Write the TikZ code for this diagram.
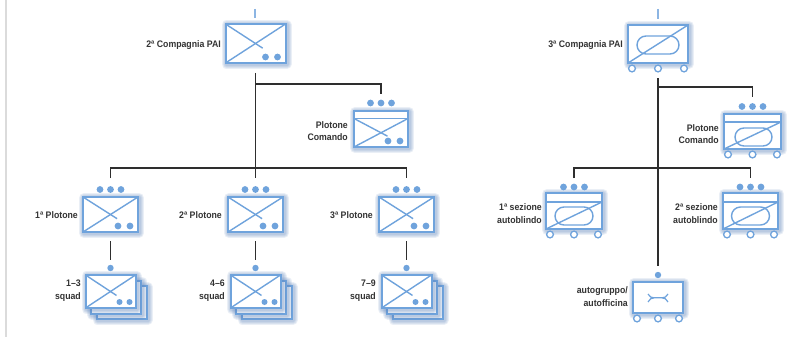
\documentclass[tikz,border=0pt]{standalone}
\usepackage{fontspec}
\setmainfont[FakeStretch=0.92]{Liberation Sans}
\usetikzlibrary{calc}
\definecolor{ublue}{HTML}{6FA3DC}
\definecolor{glowc}{HTML}{5F86BE}
\definecolor{lnk}{HTML}{2E2E2E}
\definecolor{txt}{HTML}{333333}
\tikzset{
  x=1pt,y=-1pt,
  unitbox/.style={draw=ublue,line width=2pt,fill=white,inner sep=0pt,outer sep=0pt,rectangle},
  glow/.style={draw=glowc,opacity=.13,line join=round},
  sym/.style={draw=ublue,line width=1.4pt},
  wheel/.style={draw=ublue,fill=white,line width=1.3pt},
  bdot/.style={fill=ublue,draw=none},
  lnkline/.style={draw=lnk,line width=1.7pt},
  ticks/.style={draw=ublue!80,line width=1.2pt},
  lbl/.style={font=\bfseries\fontsize{9.5}{12.6}\selectfont,text=txt,align=right,anchor=east,inner sep=0pt},
}
% name, centre x, centre y, width, height
\newcommand{\ubox}[5]{
  \foreach \w in {10,8,6,4}{
    \draw[glow,line width=\w pt] ({#2-#4/2+1},{#3-#5/2+1}) rectangle ({#2+#4/2+1},{#3+#5/2+1});}
  \node[unitbox,minimum width=#4pt,minimum height=#5pt] (#1) at (#2,#3) {};}
\newcommand{\ucross}[2]{
  \draw[sym] ($(#1.north west)+(0,#2)$) -- ($($(#1.north west)+(0,#2)$)!.62!(#1.south east)$);
  \draw[sym] (#1.south west) -- ($(#1.north east)+(0,#2)$);}
\newcommand{\twodots}[1]{
  \fill[bdot] ($(#1.south east)+(-20,-6)$) circle (3.4);
  \fill[bdot] ($(#1.south east)+(-8,-6)$) circle (3.4);}
\newcommand{\threedots}[2]{
  \foreach \d in {-10.5,0,10.5}{\fill[bdot] ($(#1.north)+(\d,-#2)$) circle (3.4);}}
\newcommand{\ustack}[3]{% name, cx, cy
  \ubox{#1c}{#2+11}{#3+11}{50}{33}
  \ubox{#1b}{#2+5.5}{#3+5.5}{50}{33}
  \ubox{#1}{#2}{#3}{50}{33}
  \ucross{#1}{0}
  \fill[bdot] ($(#1.south east)+(-16,-6)$) circle (3);
  \fill[bdot] ($(#1.south east)+(-6,-6)$) circle (3);
  \fill[bdot] ($(#1.north)+(0,-7)$) circle (3.2);
  }
\newcommand{\wheels}[1]{
  \draw[wheel] ($(#1.south west)+(4,5.5)$) circle (3.4);
  \draw[wheel] ($(#1.south)+(0,5.5)$) circle (3.4);
  \draw[wheel] ($(#1.south east)+(-4,5.5)$) circle (3.4);}
\begin{document}
\begin{tikzpicture}
\useasboundingbox (0,0) rectangle (803,337);
\fill[white] (0,0) rectangle (803,337);
\draw[black!14,line width=1.2pt] (6,0) -- (6,337);

% ---- left tree ----
\ubox{c2}{255.5}{43.5}{60}{39}
\ucross{c2}{0}\twodots{c2}
\coordinate (c2top) at (255,9);
\coordinate (c2t) at (255,18);
\draw[ticks] (c2top) -- (c2t);
\node[lbl] (c2l) at (221,45) {2ª Compagnia PAI};

\ubox{pc2}{381}{129}{54}{36}
\draw[sym] ($(pc2.north west)+(0,7.5)$) -- ($(pc2.north east)+(0,7.5)$);
\ucross{pc2}{7.5}\twodots{pc2}\threedots{pc2}{8}
\node[lbl] (pc2l) at (348,131) {Plotone\\Comando};

\ubox{p1}{110.5}{214.5}{55}{35}
\ubox{p2}{255.5}{214.5}{55}{35}
\ubox{p3}{406.5}{214.5}{55}{35}
\foreach \n in {p1,p2,p3}{\ucross{\n}{0}\twodots{\n}\threedots{\n}{7.5}}
\node[lbl] (p1l) at (78,215) {1ª Plotone};
\node[lbl] (p2l) at (222,215) {2ª Plotone};
\node[lbl] (p3l) at (373,215) {3ª Plotone};

\ustack{s1}{110.5}{291.5}
\ustack{s2}{255.5}{291.5}
\ustack{s3}{406.5}{291.5}
\node[lbl] (s1l) at (81,290.5) {1–3\\squad};
\node[lbl] (s2l) at (225,290.5) {4–6\\squad};
\node[lbl] (s3l) at (376,290.5) {7–9\\squad};

\coordinate (jl) at (c2.south |- 0,168);
\coordinate (jb) at (c2.south |- 0,84);
\draw[lnkline,shorten <=10pt] (c2.south) -- (p2.north |- 0,178);
\draw[lnkline] (jb) -| ($(pc2.north)+(0,-17)$);
\draw[lnkline] ($(p1.north)+(0,-19)$) |- (p1.north |- jl) -- (p3.north |- jl) -- ($(p3.north)+(0,-19)$);
\foreach \n in {1,2,3}{
  \draw[lnkline] ($(p\n.south)+(0,9)$) -- ($(s\n.north)+(0,-15)$);}

% ---- right tree ----
\ubox{c3}{658}{44}{60}{38}
\draw[sym,rounded corners=9] (637,36) rectangle (679,54);
\draw[sym] (c3.south west) -- (c3.north east);
\wheels{c3}
\coordinate (c3top) at (658,9);
\coordinate (c3t) at (658,19);
\draw[ticks] (c3top) -- (c3t);
\node[lbl] (c3l) at (623,45) {3ª Compagnia PAI};

\ubox{pc3}{752.5}{131.5}{57}{35}
\draw[sym] ($(pc3.north west)+(0,8)$) -- ($(pc3.north east)+(0,8)$);
\draw[sym] (pc3.south west) -- ($(pc3.north east)+(0,8)$);
\draw[sym,rounded corners=9] (735,128) rectangle (772,146);
\wheels{pc3}\threedots{pc3}{7.5}
\node[lbl] (pc3l) at (719,134) {Plotone\\Comando};

\ubox{a1}{574}{211}{56}{36}
\ubox{a2}{750.5}{211}{55}{36}
\foreach \n in {a1,a2}{
  \draw[sym] ($(\n.north west)+(0,9)$) -- ($(\n.north east)+(0,9)$);
  \draw[sym] (\n.south west) -- ($(\n.north east)+(0,9)$);
  \draw[sym,rounded corners=9] ($(\n.center)+(-19,-4)$) rectangle ($(\n.center)+(19,14)$);
  \wheels{\n}\threedots{\n}{6}}
\node[lbl] (a1l) at (542,213.5) {1ª sezione\\autoblindo};
\node[lbl] (a2l) at (718,213.5) {2ª sezione\\autoblindo};

\ubox{g}{658}{297.5}{50}{31}
\wheels{g}
\fill[bdot] ($(g.north)+(0,-7)$) circle (3.2);
\draw[sym,line width=1.2pt] (648,294) .. controls (649,297) and (652,297.8) .. (654,297.8) -- (662,297.8) .. controls (664,297.8) and (667,297) .. (668,294);
\draw[sym,line width=1.2pt] (648,302) .. controls (649,299) and (652,297.8) .. (654,297.8);
\draw[sym,line width=1.2pt] (662,297.8) .. controls (664,297.8) and (667,299) .. (668,302);
\node[lbl] (gl) at (628,296.5) {autogruppo/\\autofficina};

\coordinate (jr) at (c3.south |- 0,168);
\coordinate (jt) at (c3.south |- 0,87);
\draw[lnkline,shorten <=15pt] (c3.south) -- ($(g.north)+(0,-16)$);
\draw[lnkline] (jt) -| ($(pc3.north)+(0,-17)$);
\draw[lnkline] ($(a1.north)+(0,-15)$) |- (jr) -| ($(a2.north)+(0,-15)$);
\end{tikzpicture}
\end{document}
